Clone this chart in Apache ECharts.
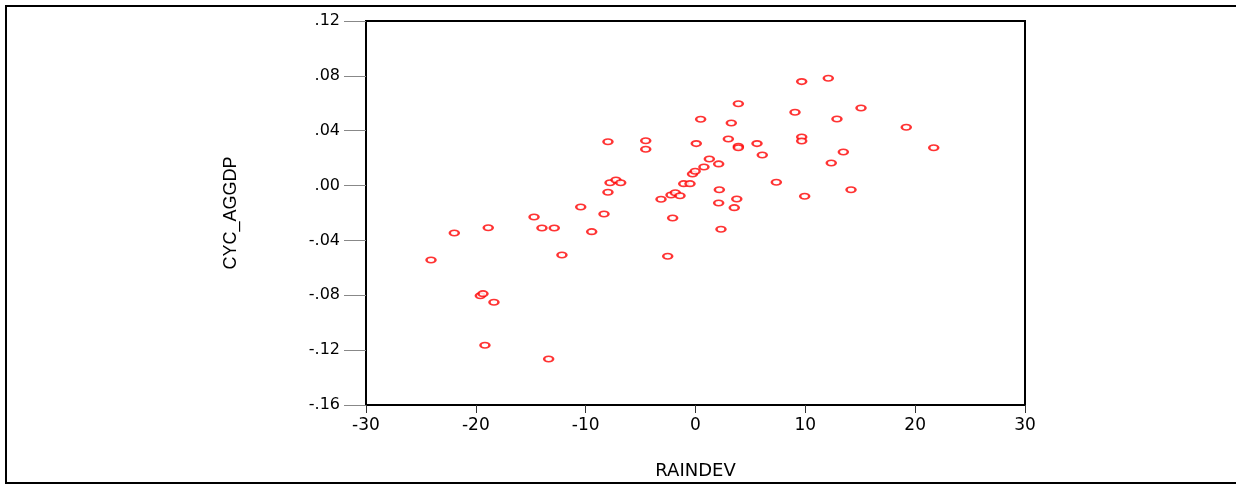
<!DOCTYPE html>
<html>
<head>
<meta charset="utf-8">
<script src="https://cdn.jsdelivr.net/npm/echarts@6/dist/echarts.min.js"></script>
<style>
  html, body { margin: 0; padding: 0; background: #fff; }
  #chart { width: 1236px; height: 485px; }
</style>
</head>
<body>
<div id="chart"></div>
<script>
// RAINDEV values (x)
const raindev = [
  -24.08, -21.96, -18.87, -14.70, -13.98, -12.86, -12.16, -10.45, -9.45, -8.33,
  -7.97, -7.97, -7.78, -7.24, -6.81, -4.53, -4.53, -3.14, -2.53, -2.23,
  -2.08, -1.84, -1.41, -1.07, -0.50, -0.27, -0.03, 0.07, 0.47, 0.77,
  1.26, 2.11, 2.17, 2.11, 2.32, 2.99, 3.26, 3.53, 3.76, 3.90,
  3.90, 3.90, 5.60, 6.08, 7.36, 9.06, 9.67, 9.67, 9.67, 9.94,
  12.09, 12.36, 12.88, 13.46, 14.16, 15.07, 19.19, 21.69, -19.59, -19.35,
  -18.35, -19.17, -13.37
];
// CYC_AGGDP values (y)
const cycAggdp = [
  -0.0543, -0.0346, -0.0307, -0.0229, -0.0309, -0.0309, -0.0506, -0.0156, -0.0336, -0.0207,
  0.0320, -0.0049, 0.0021, 0.0041, 0.0021, 0.0327, 0.0265, -0.0100, -0.0516, -0.0069,
  -0.0236, -0.0052, -0.0074, 0.0014, 0.0014, 0.0085, 0.0104, 0.0306, 0.0483, 0.0136,
  0.0194, 0.0158, -0.0030, -0.0127, -0.0319, 0.0340, 0.0456, -0.0161, -0.0098, 0.0287,
  0.0276, 0.0597, 0.0306, 0.0223, 0.0024, 0.0534, 0.0758, 0.0354, 0.0325, -0.0078,
  0.0782, 0.0165, 0.0486, 0.0245, -0.0030, 0.0566, 0.0425, 0.0276, -0.0803, -0.0788,
  -0.0851, -0.1165, -0.1264
];
const xName = 'RAINDEV';
const yName = 'CYC_AGGDP';
const xRange = [-30, 30, 10];
const yRange = [-0.16, 0.12, 0.04];

const points = raindev.map((x, i) => [x, cycAggdp[i]]);

const chart = echarts.init(document.getElementById('chart'), null, { renderer: 'canvas' });
const tickFont = 'DejaVu Sans';
chart.setOption({
  animation: false,
  backgroundColor: '#ffffff',
  graphic: [{
    type: 'rect',
    shape: { x: 6, y: 6, width: 1240, height: 477 },
    style: { fill: 'none', stroke: '#000', lineWidth: 2 },
    silent: true
  }],
  grid: {
    left: 366, right: 211, top: 21, bottom: 80,
    show: true, borderColor: '#000', borderWidth: 2, backgroundColor: 'transparent'
  },
  xAxis: {
    type: 'value',
    min: xRange[0], max: xRange[1], interval: xRange[2],
    name: xName, nameLocation: 'middle', nameGap: 57,
    nameTextStyle: { fontFamily: tickFont, fontSize: 18, color: '#000' },
    axisLine: { show: true, onZero: false, lineStyle: { color: '#000', width: 2 } },
    axisTick: { show: true, inside: false, length: 8, lineStyle: { color: '#333', width: 1 } },
    axisLabel: { margin: 12, fontFamily: tickFont, fontSize: 17, color: '#000' },
    splitLine: { show: false }
  },
  yAxis: {
    type: 'value',
    min: yRange[0], max: yRange[1], interval: yRange[2],
    name: yName, nameLocation: 'middle', nameGap: 126, nameRotate: 90,
    nameTextStyle: { fontFamily: 'Liberation Sans', fontSize: 18, color: '#000' },
    axisLine: { show: true, onZero: false, lineStyle: { color: '#000', width: 2 } },
    axisTick: { show: true, inside: false, length: 22, lineStyle: { color: '#888', width: 1 } },
    axisLabel: {
      margin: 26, fontFamily: tickFont, fontSize: 16, color: '#000',
      formatter: v => {
        const s = (Math.round(v * 100) / 100).toFixed(2);
        return s.replace('0.', '.');
      }
    },
    splitLine: { show: false }
  },
  series: [{
    type: 'scatter',
    data: points,
    symbol: 'emptyCircle',
    symbolSize: [9, 5.5],
    itemStyle: { color: '#ff0000', borderColor: '#ff0000', borderWidth: 1.4 }
  }]
});
</script>
</body>
</html>
